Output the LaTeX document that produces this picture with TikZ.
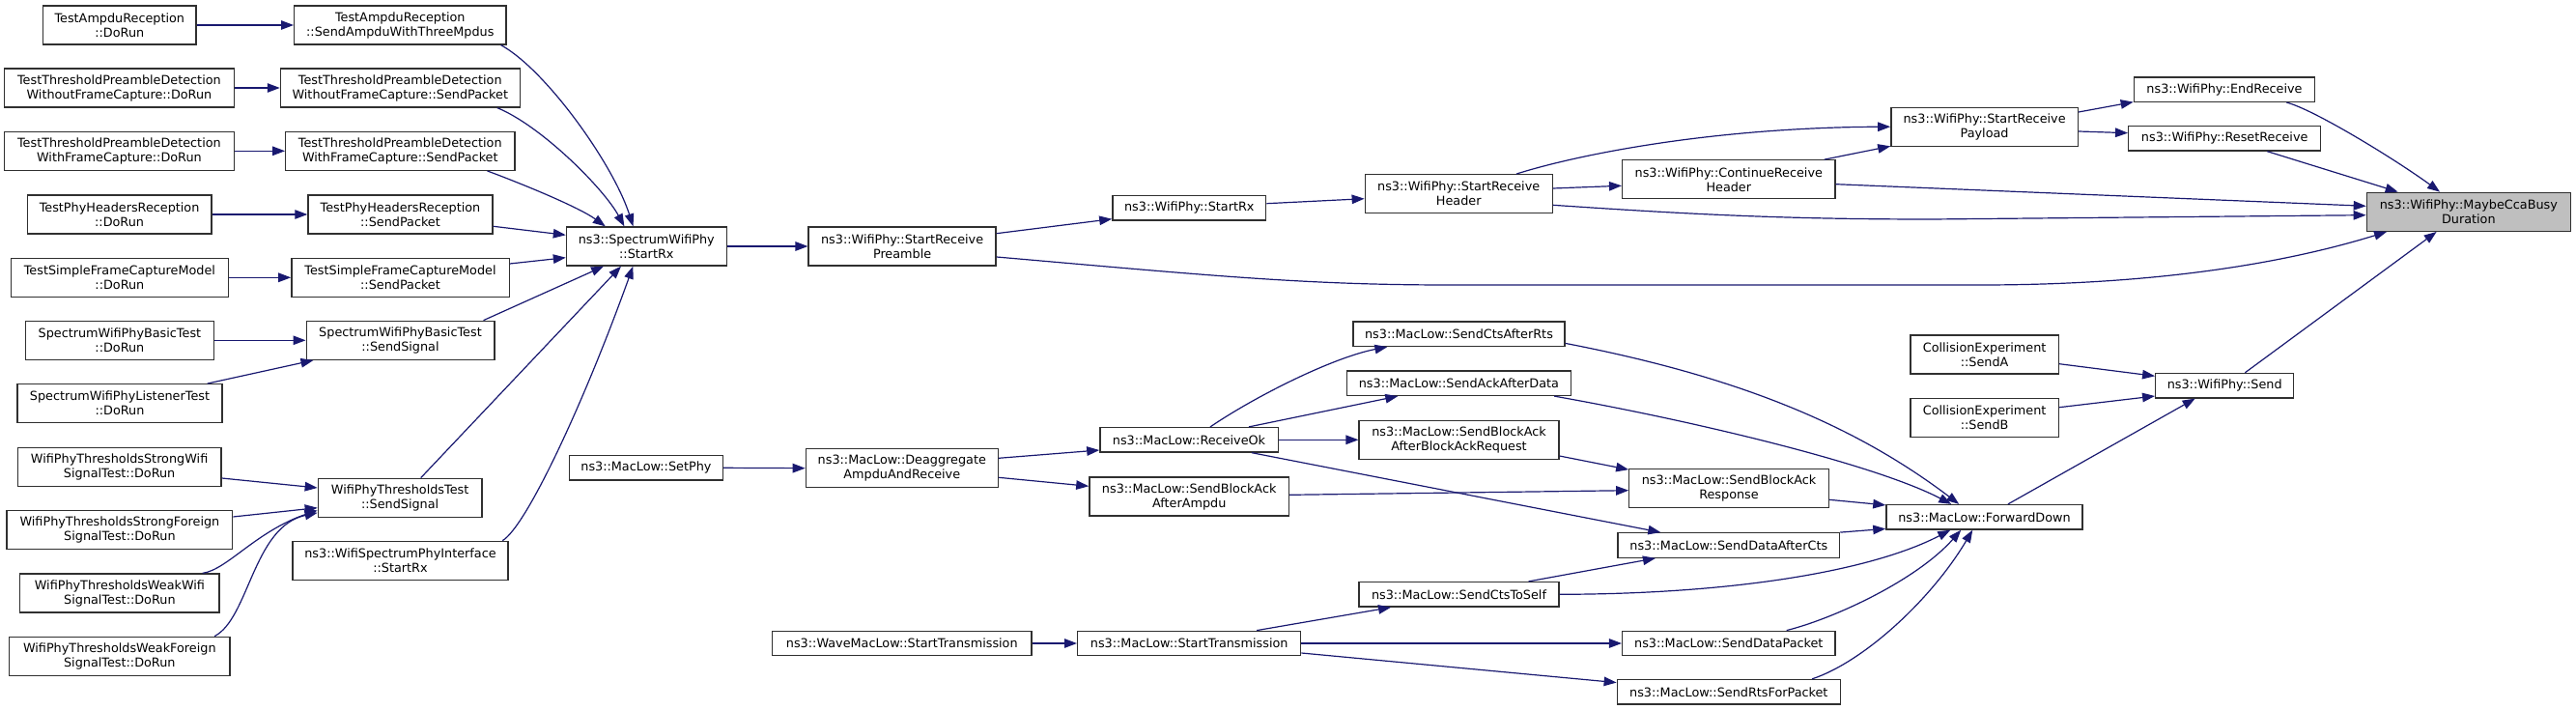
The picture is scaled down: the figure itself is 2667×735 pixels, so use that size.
\documentclass[tikz,border=0pt]{standalone}
\usepackage{fontspec}
\setmainfont{DejaVu Sans}
\usetikzlibrary{arrows.meta,calc}
\definecolor{edgeblue}{HTML}{191970}
\definecolor{nodeborder}{HTML}{303030}
\definecolor{hlgray}{HTML}{BFBFBF}
\newcommand\mknode[6]{\node[box, minimum width=#4pt, minimum height=#5pt] (#1) at (#2,#3) {#6};}
\tikzset{
  box/.style={draw=nodeborder, line width=1.3pt, fill=white, align=center, inner sep=0pt, text=black,
    font=\fontsize{12.8pt}{15pt}\selectfont},
  edge/.style={draw=edgeblue, line width=1.2pt, -{Triangle[length=13pt,width=9.5pt]}},
}
\begin{document}
\begin{tikzpicture}[x=1pt,y=-1pt]
\useasboundingbox (0,0) rectangle (2667,735);
% rank 1
\mknode{tadr}{123.8}{26}{158.3}{40}{TestAmpduReception\\::DoRun}
\mknode{twoD}{123.4}{91}{237.5}{40}{TestThresholdPreambleDetection\\WithoutFrameCapture::DoRun}
\mknode{twD}{123.4}{156.3}{237.5}{40}{TestThresholdPreambleDetection\\WithFrameCapture::DoRun}
\mknode{tphD}{123.6}{222}{190.7}{40}{TestPhyHeadersReception\\::DoRun}
\mknode{tsfD}{123.9}{287.3}{225}{40}{TestSimpleFrameCaptureModel\\::DoRun}
\mknode{sbD}{123.9}{352.3}{195}{40}{SpectrumWifiPhyBasicTest\\::DoRun}
\mknode{slD}{124}{417.7}{212.1}{40}{SpectrumWifiPhyListenerTest\\::DoRun}
\mknode{swsD}{123.6}{483.3}{210.7}{40}{WifiPhyThresholdsStrongWifi\\SignalTest::DoRun}
\mknode{sfsD}{123.9}{548.7}{233.6}{40}{WifiPhyThresholdsStrongForeign\\SignalTest::DoRun}
\mknode{wwD}{123.9}{614}{206.4}{40}{WifiPhyThresholdsWeakWifi\\SignalTest::DoRun}
\mknode{wfD}{123.8}{679.3}{228.3}{40}{WifiPhyThresholdsWeakForeign\\SignalTest::DoRun}
% rank 2
\mknode{tasa}{414.3}{26}{219.3}{40}{TestAmpduReception\\::SendAmpduWithThreeMpdus}
\mknode{twoS}{414.3}{91}{247.8}{40}{TestThresholdPreambleDetection\\WithoutFrameCapture::SendPacket}
\mknode{twS}{414.3}{156.3}{237.2}{40}{TestThresholdPreambleDetection\\WithFrameCapture::SendPacket}
\mknode{tphS}{414.5}{222}{191.1}{40}{TestPhyHeadersReception\\::SendPacket}
\mknode{tsfS}{414.5}{287.3}{225.3}{40}{TestSimpleFrameCaptureModel\\::SendPacket}
\mknode{sbS}{414.5}{352.3}{194.7}{40}{SpectrumWifiPhyBasicTest\\::SendSignal}
\mknode{wtS}{414.1}{515.3}{169.6}{40}{WifiPhyThresholdsTest\\::SendSignal}
\mknode{wspi}{414.5}{580.3}{223.2}{40}{ns3::WifiSpectrumPhyInterface\\::StartRx}
% rank 3
\mknode{swp}{669.3}{255}{165.7}{40}{ns3::SpectrumWifiPhy\\::StartRx}
\mknode{setphy}{668.9}{484.3}{158.6}{25.5}{ns3::MacLow::SetPhy}
% rank 4
\mknode{srp}{934.1}{255}{194}{40}{ns3::WifiPhy::StartReceive\\Preamble}
\mknode{deagg}{933.8}{484.7}{198.9}{40}{ns3::MacLow::Deaggregate\\AmpduAndReceive}
\mknode{wave}{933.8}{666}{268.3}{25.5}{ns3::WaveMacLow::StartTransmission}
% rank 5
\mknode{wpsr}{1231.3}{215.2}{158.9}{25.5}{ns3::WifiPhy::StartRx}
\mknode{recvOk}{1231}{455.3}{184.3}{25.5}{ns3::MacLow::ReceiveOk}
\mknode{baAmpdu}{1231.2}{514}{206.7}{40}{ns3::MacLow::SendBlockAck\\AfterAmpdu}
\mknode{mlST}{1231.2}{666}{231.1}{25.5}{ns3::MacLow::StartTransmission}
% rank 6
\mknode{srh}{1510.2}{200.7}{193.9}{40}{ns3::WifiPhy::StartReceive\\Header}
\mknode{ctsRts}{1510.5}{345.7}{218.9}{25.5}{ns3::MacLow::SendCtsAfterRts}
\mknode{ackData}{1510.4}{396.7}{232.1}{25.5}{ns3::MacLow::SendAckAfterData}
\mknode{baBar}{1510.5}{455.3}{206.8}{40}{ns3::MacLow::SendBlockAck\\AfterBlockAckRequest}
\mknode{ctsSelf}{1510.5}{615.3}{206.8}{25.5}{ns3::MacLow::SendCtsToSelf}
% rank 7
\mknode{crh}{1789.8}{185.8}{220.4}{40}{ns3::WifiPhy::ContinueReceive\\Header}
\mknode{baResp}{1790}{505.8}{206.4}{40}{ns3::MacLow::SendBlockAck\\Response}
\mknode{dataCts}{1789.8}{564.5}{229.6}{25.5}{ns3::MacLow::SendDataAfterCts}
\mknode{dataPkt}{1789.8}{666}{220.4}{25.5}{ns3::MacLow::SendDataPacket}
\mknode{rts}{1789.8}{716.3}{231.1}{25.5}{ns3::MacLow::SendRtsForPacket}
% rank 8
\mknode{srpay}{2054.6}{131.2}{193.5}{40}{ns3::WifiPhy::StartReceive\\Payload}
\mknode{sendA}{2054.6}{367}{153.5}{40}{CollisionExperiment\\::SendA}
\mknode{sendB}{2054.6}{432.5}{153.5}{40}{CollisionExperiment\\::SendB}
\mknode{fwd}{2054.5}{535.3}{203.2}{25.5}{ns3::MacLow::ForwardDown}
% rank 9
\mknode{endRecv}{2303}{92.7}{187.4}{25.5}{ns3::WifiPhy::EndReceive}
\mknode{resetRecv}{2303.2}{143.3}{199}{25.5}{ns3::WifiPhy::ResetReceive}
\mknode{send}{2303.2}{399.2}{143}{25.5}{ns3::WifiPhy::Send}
% rank 10
\node[box, fill=hlgray, minimum width=211pt, minimum height=40pt] (maybe) at (2555.8,219.3) {ns3::WifiPhy::MaybeCcaBusy\\Duration};

% edges rank1 -> rank2
\draw[edge] (tadr.east) -- (tasa.west);
\draw[edge] (twoD.east) -- (twoS.west);
\draw[edge] (twD.east) -- (twS.west);
\draw[edge] (tphD.east) -- (tphS.west);
\draw[edge] (tsfD.east) -- (tsfS.west);
\draw[edge] (sbD.east) -- (sbS.west);
\draw[edge] ($(slD.north east)+(-16,0)$) -- ($(sbS.south west)+(8,0)$);
\draw[edge] ($(swsD.east)+(0,11.7)$) -- ($(wtS.west)+(0,-10.3)$);
\draw[edge] ($(sfsD.east)+(0,-13.7)$) -- ($(wtS.west)+(0,10.4)$);
\draw[edge] ($(wwD.north east)+(-18,0)$) .. controls (235,590) and (265,550) .. ($(wtS.west)+(0,13)$);
\draw[edge] ($(wfD.north east)+(-16.5,0)$) .. controls (258,640) and (262,545) .. ($(wtS.west)+(0,15.5)$);
% into SpectrumWifiPhy::StartRx
\draw[edge] ($(tasa.south east)+(-6,0)$) .. controls (565,72) and (635,170) .. ($(swp.north west)+(69.7,0)$);
\draw[edge] ($(twoS.south east)+(-24,0)$) .. controls (560,130) and (625,195) .. ($(swp.north west)+(60.6,0)$);
\draw[edge] ($(twS.south east)+(-29,0)$) .. controls (545,192) and (600,215) .. ($(swp.north west)+(41,0)$);
\draw[edge] ($(tphS.east)+(0,12.3)$) -- ($(swp.west)+(0,-11.7)$);
\draw[edge] ($(tsfS.east)+(0,-14.3)$) -- ($(swp.west)+(0,11.7)$);
\draw[edge] ($(sbS.north east)+(-12,0)$) -- ($(swp.south west)+(39.3,0)$);
\draw[edge] ($(wtS.north)+(21.6,0)$) -- ($(swp.south west)+(57.2,0)$);
\draw[edge] ($(wspi.north east)+(-6.5,0)$) .. controls (545,545) and (605,416) .. ($(swp.south west)+(69.6,0)$);
% PHY chain
\draw[edge] (swp.east) -- (srp.west);
\draw[edge] ($(srp.east)+(0,-13.3)$) -- ($(wpsr.west)+(0,11.5)$);
\draw[edge] ($(srp.east)+(0,11)$) .. controls (1250,285) and (1350,295) .. (1500,295) -- (2050,295) .. controls (2250,295) and (2380,268) .. ($(maybe.south west)+(21.4,0)$);
\draw[edge] ($(wpsr.east)+(0,-4.5)$) -- ($(srh.west)+(0,5)$);
\draw[edge] ($(srh.north east)+(-37.8,0)$) .. controls (1640,158) and (1780,132) .. (srpay.west);
\draw[edge] ($(srh.east)+(0,-5.7)$) -- ($(crh.west)+(0,6.5)$);
\draw[edge] ($(srh.east)+(0,11.6)$) .. controls (1750,222) and (1850,227) .. (2000,227) -- ($(maybe.west)+(0,3.4)$);
\draw[edge] ($(crh.north east)+(-12,0)$) -- ($(srpay.south west)+(0,-0.5)$);
\draw[edge] ($(crh.east)+(0,4.9)$) -- ($(maybe.west)+(0,-6)$);
\draw[edge] ($(srpay.east)+(0,-15.2)$) -- ($(endRecv.south west)+(0,-0.5)$);
\draw[edge] ($(srpay.east)+(0,4.8)$) -- ($(resetRecv.west)+(0,-5.6)$);
\draw[edge] ($(endRecv.south east)+(-30,0)$) .. controls (2395,113) and (2480,165) .. ($(maybe.north west)+(76.4,0)$);
\draw[edge] ($(resetRecv.south east)+(-56,0)$) -- ($(maybe.north west)+(33,0)$);
\draw[edge] ($(send.north east)+(-51,0)$) -- ($(maybe.south west)+(73,0)$);
\draw[edge] ($(sendA.east)+(0,9.7)$) -- ($(send.west)+(0,-9.9)$);
\draw[edge] ($(sendB.east)+(0,-10.8)$) -- ($(send.west)+(0,10.8)$);
\draw[edge] ($(fwd.north)+(24.4,0)$) -- ($(send.south west)+(41.6,0)$);
% MAC
\draw[edge] (setphy.east) -- (deagg.west);
\draw[edge] ($(deagg.east)+(0,-10.4)$) -- ($(recvOk.west)+(0,10.7)$);
\draw[edge] ($(deagg.east)+(0,9.6)$) -- ($(baAmpdu.west)+(0,-10.7)$);
\draw[edge] (wave.east) -- (mlST.west);
\draw[edge] ($(recvOk.north)+(22,0)$) .. controls (1300,410) and (1380,370) .. ($(ctsRts.south west)+(36,0)$);
\draw[edge] ($(recvOk.north)+(62,0)$) -- ($(ackData.south west)+(53.6,0)$);
\draw[edge] (recvOk.east) -- (baBar.west);
\draw[edge] ($(recvOk.south)+(65,0)$) -- ($(dataCts.north west)+(45,0)$);
\draw[edge] ($(baBar.east)+(0,16.7)$) -- ($(baResp.north west)+(0,1)$);
\draw[edge] ($(baAmpdu.east)+(0,-1.7)$) -- ($(baResp.west)+(0,1.9)$);
\draw[edge] ($(mlST.north)+(70,0)$) -- ($(ctsSelf.south west)+(33.6,0)$);
\draw[edge] (mlST.east) -- (dataPkt.west);
\draw[edge] ($(mlST.east)+(0,10)$) -- ($(rts.west)+(0,-9.7)$);
\draw[edge] ($(ctsSelf.north east)+(-32,0)$) -- ($(dataCts.south west)+(39.6,0)$);
\draw[edge] ($(ctsRts.south east)+(0,-3.7)$) .. controls (1800,390) and (1920,440) .. ($(fwd.north west)+(76,0)$);
\draw[edge] ($(ackData.south east)+(-18,0)$) .. controls (1750,435) and (1940,480) .. ($(fwd.north west)+(68,0)$);
\draw[edge] ($(baResp.east)+(0,11.5)$) -- ($(fwd.north west)+(0,1)$);
\draw[edge] (dataCts.north east) -- ($(fwd.south west)+(0,-1.3)$);
\draw[edge] (ctsSelf.east) .. controls (1800,615) and (1940,590) .. ($(fwd.south west)+(67,0)$);
\draw[edge] ($(dataPkt.north east)+(-51,0)$) .. controls (1900,640) and (1985,600) .. ($(fwd.south west)+(78,0)$);
\draw[edge] ($(rts.north east)+(-30,0)$) .. controls (1930,685) and (2000,620) .. ($(fwd.south west)+(90,0)$);
\end{tikzpicture}
\end{document}
